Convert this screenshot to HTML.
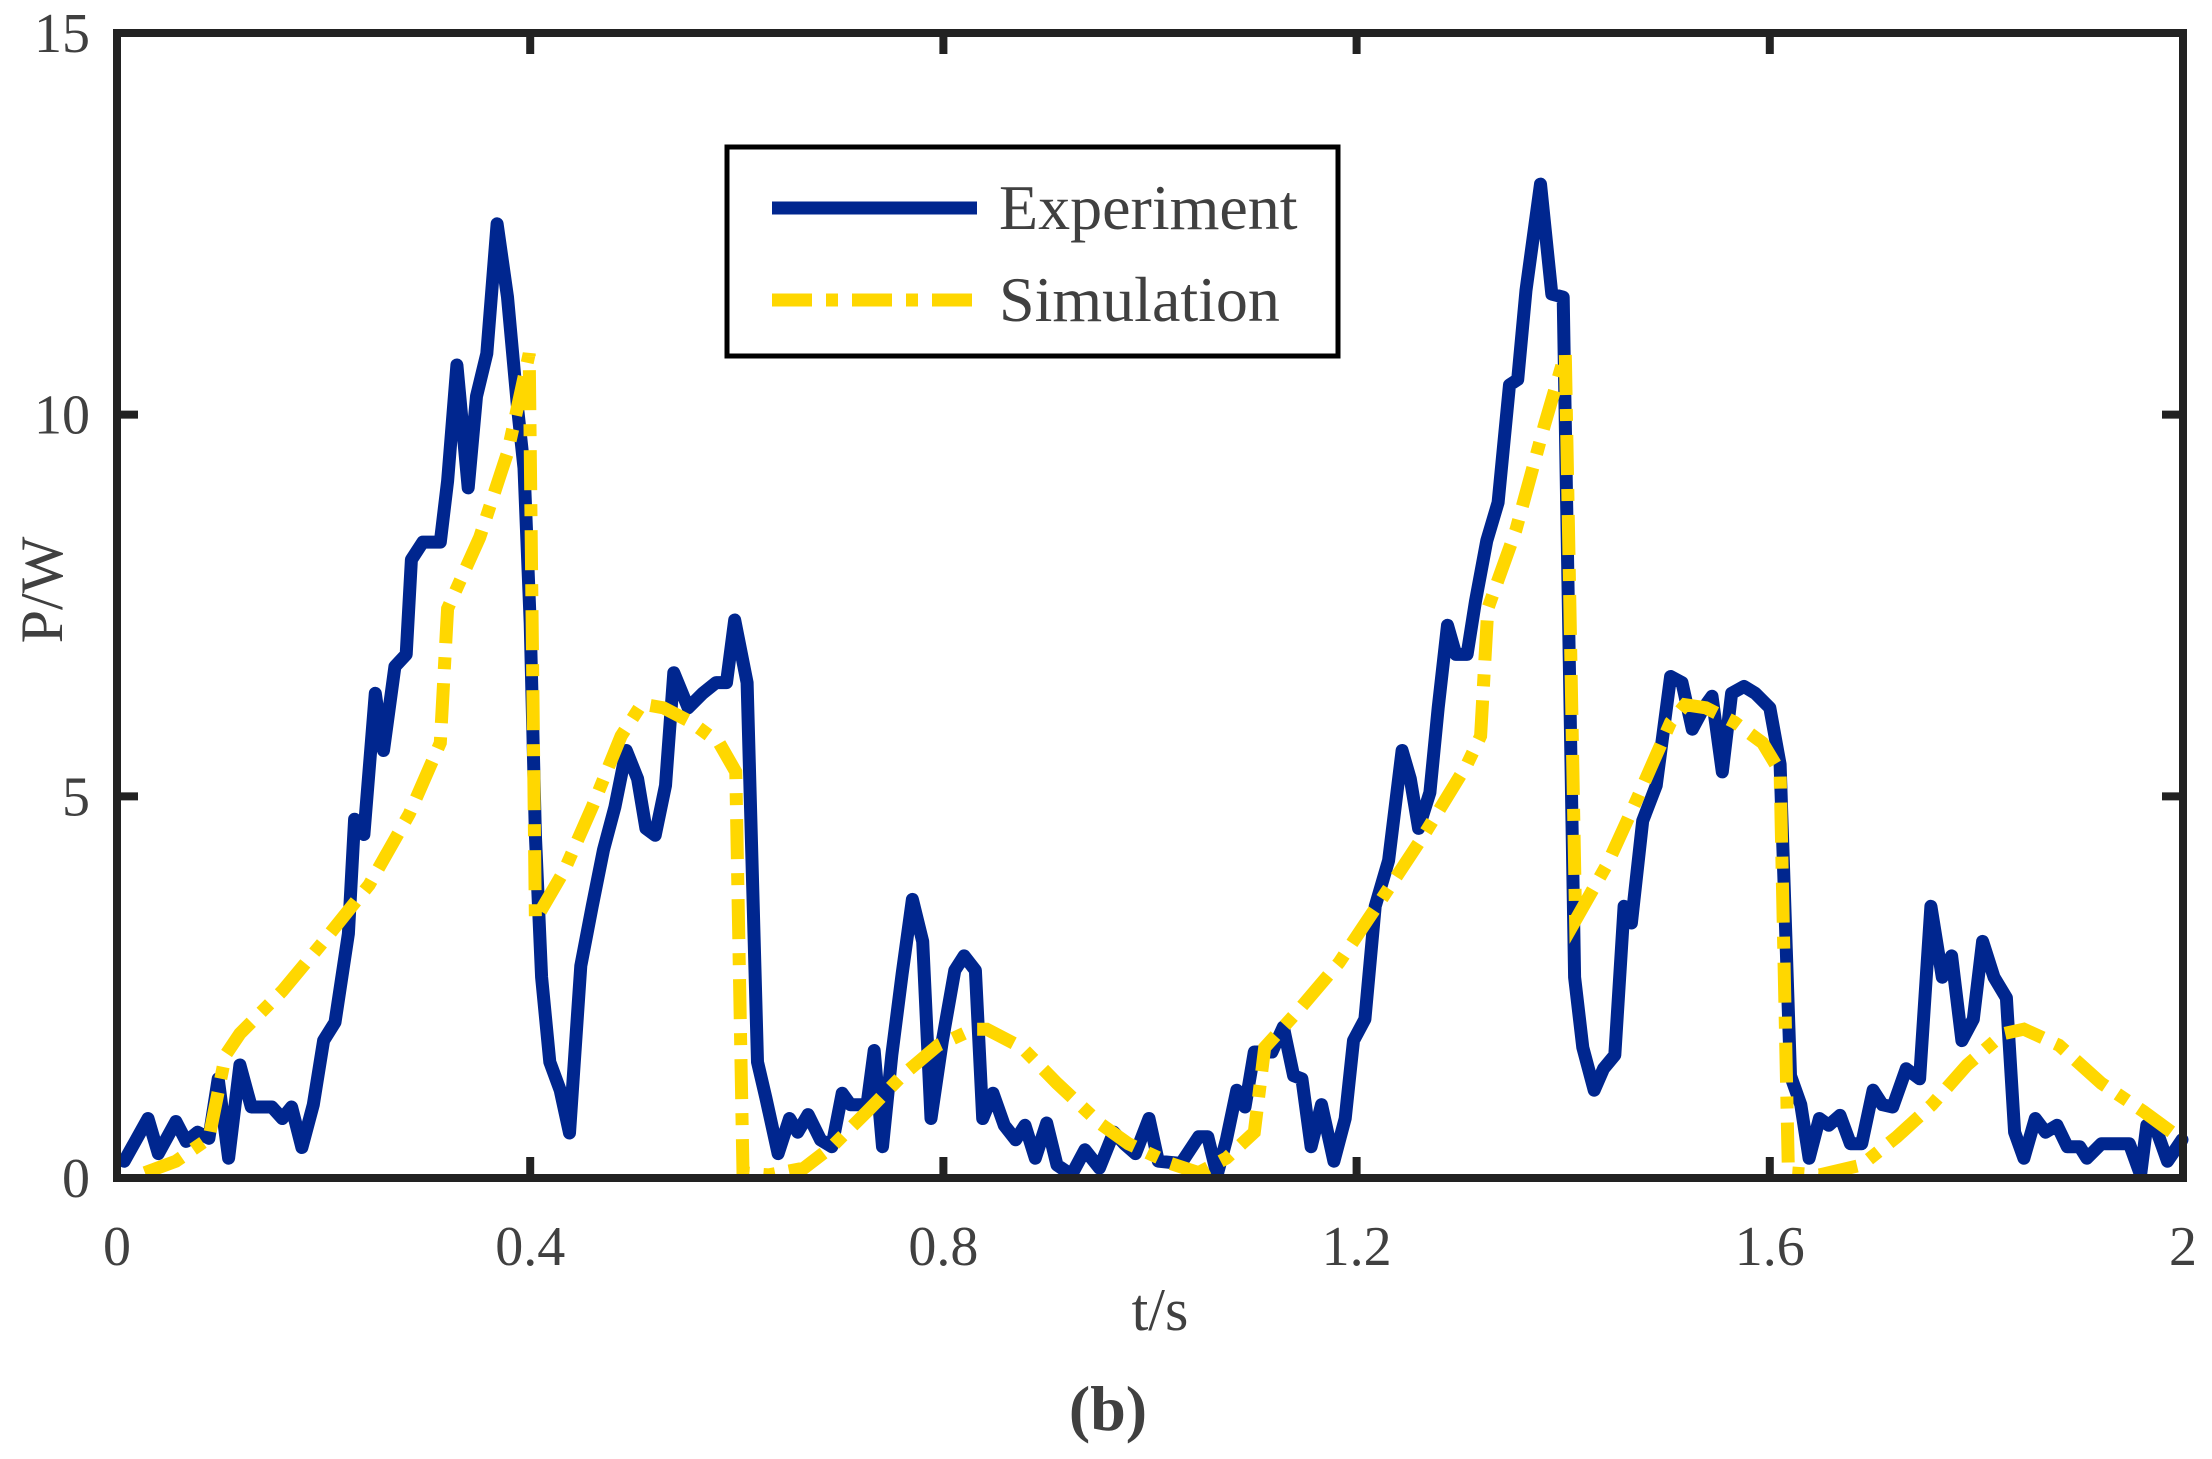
<!DOCTYPE html>
<html><head><meta charset="utf-8"><style>
html,body{margin:0;padding:0;background:#fff}
svg{display:block}
text{font-family:"Liberation Serif",serif;fill:#404040}
</style></head><body>
<svg id="chart" width="2212" height="1459" viewBox="0 0 2212 1459" xmlns="http://www.w3.org/2000/svg">
<g id="plot"></g>
</svg>
<script>
const xTicks=[0,0.4,0.8,1.2,1.6,2];
const xTickLabels=["0","0.4","0.8","1.2","1.6","2"];
const yTicks=[0,5,10,15];
const yTickLabels=["0","5","10","15"];
const expT=[0.007,0.03,0.04,0.057,0.067,0.078,0.089,0.098,0.108,0.119,0.13,0.15,0.16,0.169,0.179,0.19,0.2,0.211,0.224,0.23,0.239,0.25,0.258,0.269,0.28,0.285,0.296,0.313,0.32,0.329,0.34,0.348,0.358,0.368,0.378,0.388,0.394,0.4,0.405,0.411,0.419,0.429,0.438,0.449,0.46,0.471,0.482,0.493,0.504,0.512,0.521,0.531,0.539,0.553,0.567,0.58,0.59,0.598,0.61,0.62,0.628,0.64,0.651,0.659,0.669,0.681,0.692,0.702,0.71,0.726,0.733,0.741,0.75,0.76,0.77,0.78,0.788,0.799,0.811,0.82,0.831,0.838,0.848,0.859,0.87,0.879,0.889,0.9,0.91,0.924,0.937,0.951,0.965,0.975,0.986,0.999,1.008,1.03,1.047,1.056,1.065,1.074,1.084,1.092,1.101,1.118,1.129,1.139,1.147,1.156,1.166,1.178,1.189,1.197,1.208,1.218,1.231,1.244,1.252,1.26,1.271,1.279,1.288,1.296,1.307,1.315,1.326,1.337,1.348,1.356,1.364,1.378,1.389,1.4,1.405,1.411,1.419,1.43,1.439,1.45,1.459,1.466,1.477,1.49,1.504,1.515,1.525,1.536,1.544,1.554,1.563,1.575,1.586,1.6,1.61,1.62,1.63,1.638,1.648,1.657,1.668,1.678,1.689,1.7,1.709,1.719,1.732,1.745,1.756,1.767,1.776,1.786,1.797,1.806,1.817,1.829,1.837,1.846,1.857,1.867,1.878,1.888,1.9,1.907,1.921,1.935,1.948,1.959,1.965,1.975,1.985,1.999];
const expP=[0.22,0.78,0.32,0.74,0.48,0.6,0.52,1.3,0.26,1.48,0.93,0.93,0.78,0.93,0.4,0.96,1.8,2.04,3.2,4.7,4.5,6.35,5.6,6.7,6.86,8.1,8.33,8.33,9.13,10.65,9.04,10.24,10.8,12.5,11.54,10.06,9.3,7.27,4.49,2.63,1.52,1.15,0.59,2.78,3.56,4.3,4.86,5.6,5.23,4.58,4.49,5.14,6.62,6.16,6.35,6.49,6.49,7.31,6.49,1.52,1.06,0.32,0.78,0.6,0.83,0.5,0.41,1.11,0.96,0.96,1.67,0.41,1.61,2.67,3.65,3.1,0.78,1.8,2.72,2.91,2.72,0.78,1.11,0.69,0.5,0.69,0.26,0.72,0.17,0.04,0.37,0.13,0.6,0.45,0.32,0.78,0.22,0.19,0.54,0.54,0.04,0.5,1.15,0.93,1.65,1.65,1.98,1.34,1.3,0.41,0.96,0.22,0.78,1.8,2.08,3.56,4.16,5.6,5.23,4.58,5.05,6.16,7.24,6.86,6.86,7.55,8.35,8.85,10.39,10.46,11.63,13.02,11.58,11.54,7.46,2.63,1.71,1.15,1.43,1.61,3.56,3.34,4.68,5.14,6.57,6.49,5.88,6.16,6.31,5.32,6.35,6.44,6.35,6.16,5.42,1.34,0.96,0.26,0.78,0.69,0.82,0.45,0.45,1.15,0.96,0.93,1.43,1.3,3.56,2.63,2.91,1.8,2.08,3.1,2.63,2.36,0.6,0.26,0.78,0.6,0.69,0.41,0.41,0.26,0.45,0.45,0.45,0.04,0.69,0.6,0.22,0.5];
const simT=[0.027,0.057,0.089,0.105,0.119,0.16,0.2,0.244,0.283,0.313,0.32,0.351,0.378,0.399,0.405,0.433,0.46,0.488,0.508,0.529,0.556,0.583,0.599,0.606,0.631,0.665,0.692,0.726,0.76,0.795,0.829,0.842,0.876,0.91,0.951,0.979,1.02,1.047,1.074,1.101,1.111,1.142,1.183,1.224,1.265,1.307,1.32,1.327,1.354,1.382,1.402,1.412,1.443,1.471,1.504,1.518,1.538,1.566,1.593,1.61,1.618,1.648,1.689,1.723,1.757,1.791,1.826,1.846,1.88,1.921,1.962,1.999];
const simP=[0.07,0.22,0.52,1.61,1.89,2.45,3.1,3.84,4.77,5.7,7.46,8.39,9.5,10.8,3.38,4.03,4.86,5.79,6.21,6.16,5.97,5.7,5.32,0.07,0.04,0.13,0.41,0.87,1.34,1.74,1.95,1.95,1.71,1.24,0.72,0.45,0.19,0.07,0.26,0.6,1.71,2.17,2.82,3.65,4.49,5.42,5.79,7.46,8.48,9.87,10.8,3.38,4.12,4.95,5.97,6.2,6.16,5.97,5.7,5.32,0.07,0.04,0.17,0.54,0.96,1.48,1.89,1.95,1.74,1.24,0.87,0.5];

const L=117,R=2183,T=33,B=1178;
const X=v=>L+(v-0)/(2-0)*(R-L);
const Y=v=>B-(v-0)/(15-0)*(B-T);
const NS="http://www.w3.org/2000/svg";
const g=document.getElementById('plot');
function mk(tag,attrs,parent){const e=document.createElementNS(NS,tag);for(const k in attrs)e.setAttribute(k,attrs[k]);(parent||g).appendChild(e);return e;}

let d='';expT.forEach((t,i)=>{d+=(i?'L':'M')+X(t).toFixed(1)+','+Y(expP[i]).toFixed(1);});
const pe=mk('path',{d:d,fill:'none',stroke:'#00268F','stroke-width':13,'stroke-linejoin':'round','stroke-linecap':'round'});


d='';simT.forEach((t,i)=>{d+=(i?'L':'M')+X(t).toFixed(1)+','+Y(simP[i]).toFixed(1);});
const ps=mk('path',{d:d,fill:'none',stroke:'#FFD700','stroke-width':13,'stroke-dasharray':'40 14 12 14','stroke-linejoin':'miter'});



const fr=mk('rect',{x:L,y:T,width:R-L,height:B-T,fill:'none',stroke:'#222','stroke-width':8});



xTicks.forEach((v,i)=>{
  const x=X(v);
  const t1=mk('line',{x1:x,y1:B,x2:x,y2:B-21,stroke:'#222','stroke-width':8});
  
  
  const t2=mk('line',{x1:x,y1:T,x2:x,y2:T+21,stroke:'#222','stroke-width':8});
  
  
  const tx=mk('text',{x:x,y:1265,'text-anchor':'middle','font-size':56});
  tx.textContent=xTickLabels[i];
  
  
});
yTicks.forEach((v,i)=>{
  const y=Y(v);
  const t1=mk('line',{x1:L,y1:y,x2:L+21,y2:y,stroke:'#222','stroke-width':8});
  
  
  const t2=mk('line',{x1:R,y1:y,x2:R-21,y2:y,stroke:'#222','stroke-width':8});
  
  
  const tx=mk('text',{x:90,y:y+19,'text-anchor':'end','font-size':56});
  tx.textContent=yTickLabels[i];
  
  
});

const xt=mk('text',{x:1160,y:1330,'text-anchor':'middle','font-size':60});
xt.textContent='t/s';


const yt=mk('text',{x:0,y:0,'text-anchor':'middle','font-size':60,transform:'translate(62,590) rotate(-90)'});
yt.textContent='P/W';


const st=mk('text',{x:1108,y:1430,'text-anchor':'middle','font-size':64,'font-weight':'bold',fill:'#000'});
st.textContent='(b)';



const lg=mk('g',{});


const lb=mk('rect',{x:727,y:147,width:611,height:209,fill:'#fff',stroke:'#000','stroke-width':5},lg);


const l1=mk('line',{x1:772,y1:208,x2:977,y2:208,stroke:'#00268F','stroke-width':13},lg);


const tx1=mk('text',{x:999,y:229,'font-size':64,fill:'#000'},lg);
tx1.textContent='Experiment';


const l2=mk('line',{x1:772,y1:300,x2:977,y2:300,stroke:'#FFD700','stroke-width':13,'stroke-dasharray':'40 14 12 14'},lg);


const tx2=mk('text',{x:999,y:321,'font-size':64,fill:'#000'},lg);
tx2.textContent='Simulation';


</script>
</body></html>
